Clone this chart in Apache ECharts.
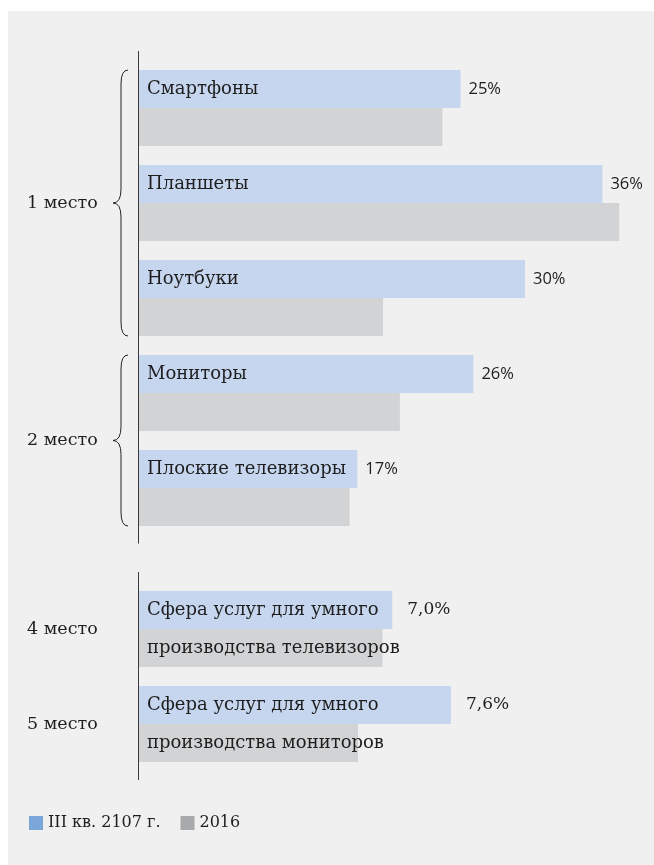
<!DOCTYPE html>
<html>
<head>
<meta charset="utf-8">
<script src="https://cdn.jsdelivr.net/npm/echarts@6/dist/echarts.min.js"></script>
<style>
  html, body { margin: 0; padding: 0; background: #ffffff; }
  #main { position: absolute; left: 8px; top: 11px; width: 646px; height: 854px; background: #f0f0f0; }
</style>
</head>
<body>
<div id="main"></div>
<script>
// ---------- данные ----------
var categoriesTop = ['Смартфоны', 'Планшеты', 'Ноутбуки', 'Мониторы', 'Плоские телевизоры'];
var valuesQ3 = [25, 36, 30, 26, 17];
var values2016 = [23.6, 37.3, 19.0, 20.3, 16.4];

var categoriesBottom = ['Сфера услуг для умного\nпроизводства телевизоров', 'Сфера услуг для умного\nпроизводства мониторов'];
var valuesQ3Bottom = [7.0, 7.6];
var values2016Bottom = [6.9, 6.65];

var seriesNames = ['III кв. 2107 г.', '2016'];
var groupsTop = [
    { label: '1 место', from: 0, to: 2 },
    { label: '2 место', from: 3, to: 4 }
];
var ranksBottom = ['4 место', '5 место'];

// ---------- стили ----------
var blue = '#c7d6ef';
var grey = '#d2d3d5';
var textColor = '#1e1e1e';
var serif = '"DejaVu Serif", serif';
var sans = '"Open Sans", sans-serif';

var myChart = echarts.init(document.getElementById('main'));

function catAxis(gridIndex, data, multi) {
    return {
        type: 'category',
        gridIndex: gridIndex,
        data: data,
        inverse: true,
        z: 10,
        axisLine: { show: false },
        axisTick: { show: false },
        splitLine: { show: false },
        axisLabel: {
            inside: true,
            margin: 9,
            color: textColor,
            fontFamily: serif,
            fontSize: 18,
            lineHeight: 38,
            align: 'left',
            verticalAlign: multi ? 'middle' : 'bottom'
        }
    };
}

var option = {
    animation: false,
    grid: [
        { left: 130, width: 516, top: 49.5, height: 475 },
        { left: 130, width: 516, top: 570.5, height: 190 }
    ],
    xAxis: [
        { type: 'value', gridIndex: 0, min: 0, max: 40, show: false },
        { type: 'value', gridIndex: 1, min: 4.4, max: 9.676, show: false }
    ],
    yAxis: [
        catAxis(0, categoriesTop, false),
        catAxis(1, categoriesBottom, true)
    ],
    legend: {
        left: 21,
        top: 804,
        padding: 0,
        icon: 'rect',
        itemWidth: 14,
        itemHeight: 14,
        itemGap: 20,
        textStyle: { color: textColor, fontFamily: serif, fontSize: 16 },
        data: [
            { name: seriesNames[0], itemStyle: { color: '#7ba6da' } },
            { name: seriesNames[1], itemStyle: { color: '#a8a9ab' } }
        ]
    },
    series: [
        {
            name: seriesNames[0], type: 'bar', xAxisIndex: 0, yAxisIndex: 0,
            data: valuesQ3, barWidth: 38, barGap: '0%',
            itemStyle: { color: blue },
            label: {
                show: true, position: 'right', distance: 8,
                color: textColor, fontFamily: sans, fontSize: 16.5,
                formatter: function(p) { return p.value + '%'; }
            }
        },
        {
            name: seriesNames[1], type: 'bar', xAxisIndex: 0, yAxisIndex: 0,
            data: values2016, barWidth: 38, barGap: '0%',
            itemStyle: { color: grey }
        },
        {
            name: seriesNames[0], type: 'bar', xAxisIndex: 1, yAxisIndex: 1,
            data: valuesQ3Bottom, barWidth: 38, barGap: '0%',
            itemStyle: { color: blue },
            label: {
                show: true, position: 'right', distance: 15,
                color: textColor, fontFamily: serif, fontSize: 17,
                formatter: function(p) { return p.value.toFixed(1).replace('.', ',') + '%'; }
            }
        },
        {
            name: seriesNames[1], type: 'bar', xAxisIndex: 1, yAxisIndex: 1,
            data: values2016Bottom, barWidth: 38, barGap: '0%',
            itemStyle: { color: grey }
        }
    ]
};

myChart.setOption(option);

/************** скобки, подписи групп, вертикальные оси **************/
var graphics = [];
var axisX = 130.5;
var half = 47.5; // половина шага категории

function yOf(axisIndex, name) {
    return myChart.convertToPixel({ yAxisIndex: axisIndex }, name);
}

var strokeStyle = { stroke: '#222', lineWidth: 1, fill: null };

function seg(x1, y1, x2, y2) {
    graphics.push({ type: 'line', silent: true, z: 20, shape: { x1: x1, y1: y1, x2: x2, y2: y2 }, style: strokeStyle });
}
function curve(x1, y1, cx, cy, x2, y2) {
    graphics.push({ type: 'bezierCurve', silent: true, z: 20, shape: { x1: x1, y1: y1, cpx1: cx, cpy1: cy, x2: x2, y2: y2 }, style: strokeStyle });
}

function brace(y0, y1) {
    var xr = 120, xs = 113, xt = 105, r = 14;
    var ym = (y0 + y1) / 2;
    curve(xr, y0, xs, y0, xs, y0 + r);
    seg(xs, y0 + r, xs, ym - r);
    curve(xs, ym - r, xs, ym, xt, ym);
    curve(xt, ym, xs, ym, xs, ym + r);
    seg(xs, ym + r, xs, y1 - r);
    curve(xs, y1 - r, xs, y1, xr, y1);
}

function vLine(y0, y1) {
    graphics.push({
        type: 'line', silent: true, z: 20,
        shape: { x1: axisX, y1: y0, x2: axisX, y2: y1 },
        style: { stroke: '#3a3a3a', lineWidth: 1 }
    });
}

function groupLabel(text, y) {
    graphics.push({
        type: 'text', silent: true, z: 20,
        x: 19, y: y,
        style: { text: text, fill: textColor, font: '17.5px ' + serif, verticalAlign: 'middle' }
    });
}

groupsTop.forEach(function(g) {
    var y0 = yOf(0, categoriesTop[g.from]) - 38;
    var y1 = yOf(0, categoriesTop[g.to]) + 38;
    brace(y0, y1);
    groupLabel(g.label, (y0 + y1) / 2);
});

ranksBottom.forEach(function(label, i) {
    groupLabel(label, yOf(1, categoriesBottom[i]));
});

vLine(yOf(0, categoriesTop[0]) - half - 9.5, yOf(0, categoriesTop[categoriesTop.length - 1]) + half + 8);
vLine(yOf(1, categoriesBottom[0]) - half - 9.5, yOf(1, categoriesBottom[categoriesBottom.length - 1]) + half + 8.5);

myChart.setOption({ graphic: graphics });
</script>
</body>
</html>
